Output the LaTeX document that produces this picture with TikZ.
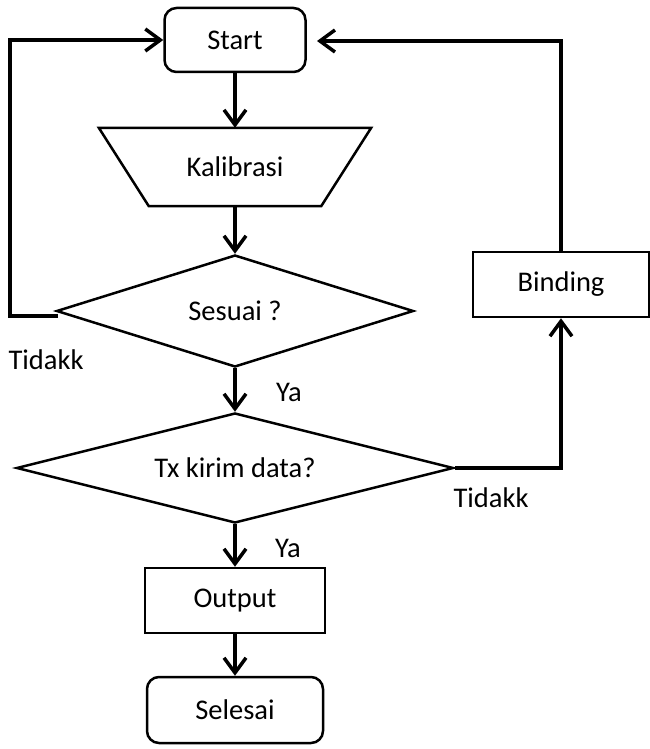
\documentclass[tikz,border=0pt]{standalone}
\usepackage{fontspec}
\setmainfont{Carlito}
\usetikzlibrary{arrows.meta,shapes.geometric,calc}
\tikzset{
  box/.style={draw=black, line width=2.5pt, inner sep=0pt, font=\fontsize{28.5}{34}\selectfont},
  rbox/.style={box, rounded corners=12pt},
  dia/.style={box, diamond, aspect=3.2},
  lbl/.style={font=\fontsize{28.5}{34}\selectfont, inner sep=0pt},
  conn/.style={line width=3.5pt, -{Straight Barb[length=15pt,width=22pt]}},
  plainconn/.style={line width=3.5pt}
}
\begin{document}
\begin{tikzpicture}[x=1pt,y=-1pt]
\useasboundingbox (0,0) rectangle (649,749);
\node[rbox, minimum width=141pt, minimum height=64pt] (start) at (235,40) {Start};
\node[lbl, minimum width=272pt, minimum height=78pt] (kal) at (235,167) {Kalibrasi};
\draw[line width=2.5pt, line join=miter] (kal.north west) -- (kal.north east) -- ([xshift=-50pt]kal.south east) -- ([xshift=50pt]kal.south west) -- cycle;
\node[dia, minimum width=357pt, minimum height=112pt] (ses) at (235,311) {Sesuai ?};
\node[dia, minimum width=437pt, minimum height=110pt] (tx) at (235,468) {Tx kirim data?};
\node[box, minimum width=180pt, minimum height=65pt] (out) at (235,600.5) {Output};
\node[rbox, minimum width=176pt, minimum height=66pt] (sel) at (235,710) {Selesai};
\node[box, minimum width=176pt, minimum height=65pt] (bind) at (561,284.5) {Binding};

\coordinate (lc) at (10,316);
\coordinate (lt) at (58,316);
\coordinate (rtip) at (317,41);

\draw[conn] (start) -- (kal);
\draw[conn] (kal) -- (ses);
\draw[conn] (ses) -- (tx);
\draw[conn] (tx) -- (out);
\draw[conn] (out) -- (sel);
\draw[conn] (lt) -- (lc) |- (start.west);
\draw[conn] (bind.north) |- (rtip);
\draw[conn] (tx.east) -| (bind.south);

\node[lbl] (t1) at (46,360) {Tidakk};
\node[lbl] (y1) at (289,392) {Ya};
\node[lbl] (t2) at (491,498) {Tidakk};
\node[lbl] (y2) at (288,548) {Ya};
\end{tikzpicture}
\end{document}
